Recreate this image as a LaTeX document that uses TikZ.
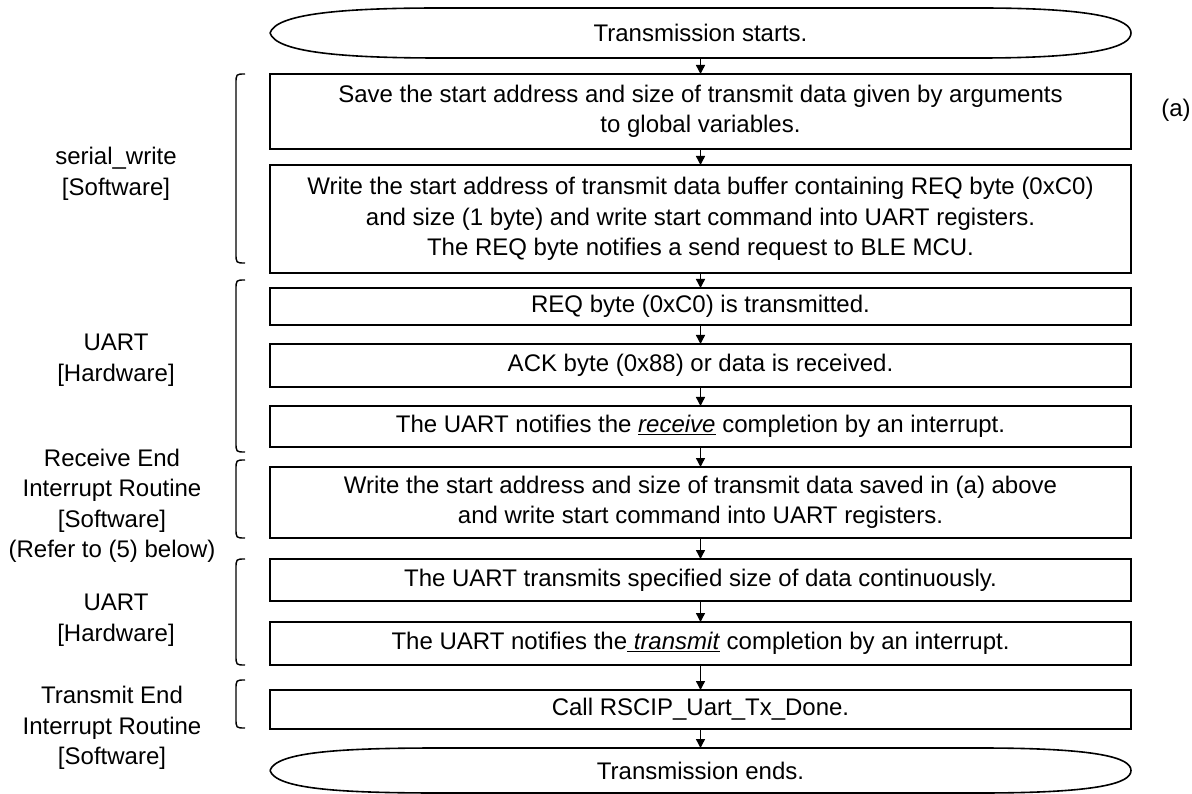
\documentclass[tikz,border=0pt]{standalone}
\usepackage{fontspec}
\setmainfont{Liberation Sans}
\usetikzlibrary{arrows.meta}
\begin{document}
\begin{tikzpicture}[x=1pt,y=-1pt,
  every node/.style={font=\fontsize{24}{30.5}\selectfont, inner sep=0pt, outer sep=0pt},
  stepbox/.style={draw, line width=1.8pt, minimum width=861pt, align=center},
  sidelabel/.style={align=center},
  flow/.style={line width=1.4pt, -{Triangle[width=9pt,length=9pt]}},
  brace/.style={line width=1.4pt},
  term/.style={line width=1.6pt}]
\useasboundingbox (0,0) rectangle (1192,794);
% terminals
\node[minimum width=861pt, minimum height=50pt] (start) at (700.5,33) {Transmission starts.};
\draw[term] (270,33) .. controls (276,14) and (340,8) .. (440,8) -- (980,8)
  .. controls (1100,8) and (1131,20) .. (1131,33)
  .. controls (1131,46) and (1100,58) .. (980,58) -- (440,58)
  .. controls (340,58) and (276,52) .. (270,33);
\node[minimum width=861pt, minimum height=45pt] (end) at (700.5,770.5) {Transmission ends.};
\draw[term] (270,770.5) .. controls (276,752) and (340,748) .. (440,748) -- (980,748)
  .. controls (1100,748) and (1131,758) .. (1131,770.5)
  .. controls (1131,783) and (1100,793) .. (980,793) -- (440,793)
  .. controls (340,793) and (276,789) .. (270,770.5);
% boxes
\node[stepbox, minimum height=75pt] (b1) at (700.5,111.5) {Save the start address and size of transmit data given by arguments\\to global variables.};
\node[stepbox, minimum height=108pt] (b2) at (700.5,219) {Write the start address of transmit data buffer containing REQ byte (0xC0)\\and size (1 byte) and write start command into UART registers.\\The REQ byte notifies a send request to BLE MCU.};
\node[stepbox, minimum height=37pt] (b3) at (700.5,306.5) {REQ byte (0xC0) is transmitted.};
\node[stepbox, minimum height=43pt] (b4) at (700.5,365.5) {ACK byte (0x88) or data is received.};
\node[stepbox, minimum height=41pt] (b5) at (700.5,426.5) {The UART notifies the \underline{\textit{receive}} completion by an interrupt.};
\node[stepbox, minimum height=71pt] (b6) at (700.5,502.5) {Write the start address and size of transmit data saved in (a) above\\and write start command into UART registers.};
\node[stepbox, minimum height=42pt] (b7) at (700.5,580) {The UART transmits specified size of data continuously.};
\node[stepbox, minimum height=43pt] (b8) at (700.5,643.5) {The UART notifies the\underline{\hbox{ \textit{transmit}}} completion by an interrupt.};
\node[stepbox, minimum height=39pt] (b9) at (700.5,709.5) {Call RSCIP\_Uart\_Tx\_Done.};
\node (a) at (1176,110) {(a)};
% arrows
\coordinate (s0) at (700.5,58);
\coordinate (e0) at (700.5,748);
\draw[flow] (s0) -- (b1.north);
\draw[flow] (b1) -- (b2);
\draw[flow] (b2) -- (b3);
\draw[flow] (b3) -- (b4);
\draw[flow] (b4) -- (b5);
\draw[flow] (b5) -- (b6);
\draw[flow] (b6) -- (b7);
\draw[flow] (b7) -- (b8);
\draw[flow] (b8) -- (b9);
\draw[flow] (b9.south) -- (e0);
% braces
\foreach \t/\b in {74/263, 280/452, 460/538, 559/665, 680/728}{
  \draw[brace] (245,\t) .. controls (236,\t) .. (236,\t+10) -- (236,\b-10) .. controls (236,\b) .. (245,\b);
}
% side labels
\node[sidelabel] (l1) at (116,174) {serial\_write\\{[Software]}};
\node[sidelabel] (l2) at (116,360) {UART\\{[Hardware]}};
\node[sidelabel] (l3) at (112,506) {Receive End\\Interrupt Routine\\{[Software]}\\(Refer to (5) below)};
\node[sidelabel] (l4) at (116,620) {UART\\{[Hardware]}};
\node[sidelabel] (l5) at (112,728) {Transmit End\\Interrupt Routine\\{[Software]}};
\end{tikzpicture}
\end{document}
